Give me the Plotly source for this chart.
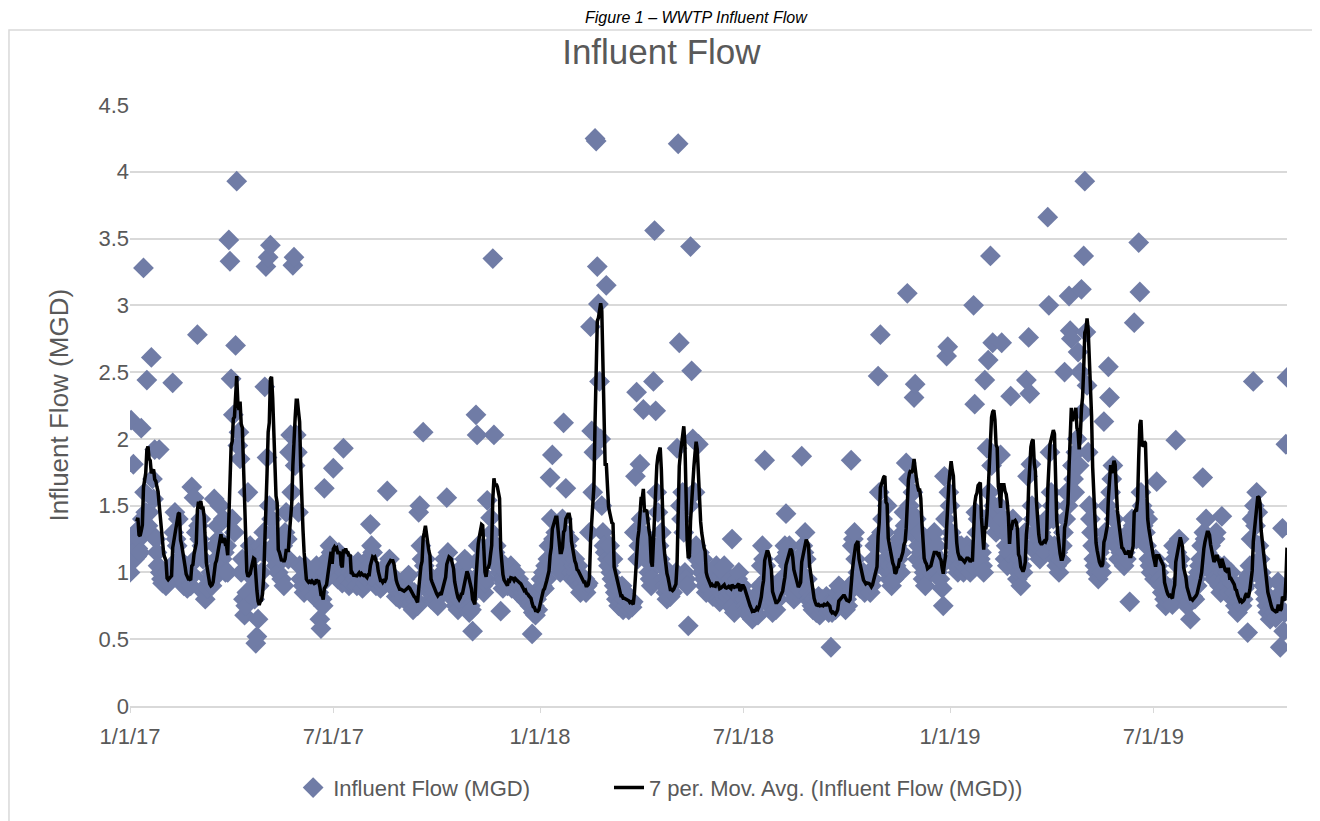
import pandas as pd
import plotly.graph_objects as go

# Daily influent flow (MGD), one row per month
flow_2017 = [
    1.00, 2.14, 1.21, 1.81, 1.10, 1.30, 1.12, 1.18, 1.25, 1.15, 2.08, 1.40, 3.28, 1.60, 1.45, 2.44, 1.35, 1.45, 1.30, 2.61, 1.70, 1.55, 1.92, 1.25, 1.15, 1.05, 1.92, 1.00, 0.95, 0.92, 0.98,
    0.95, 0.90, 1.00, 0.92, 1.02, 0.98, 1.05, 2.42, 1.30, 1.45, 1.25, 1.20, 1.40, 1.10, 1.00, 1.05, 0.95, 0.90, 0.92, 1.00, 0.88, 0.95, 1.05, 0.90, 1.64, 0.98, 1.56, 1.10,
    1.30, 2.78, 1.35, 1.25, 1.40, 1.20, 1.10, 0.85, 0.80, 0.90, 0.88, 0.95, 0.92, 1.00, 0.90, 0.95, 1.55, 1.20, 1.10, 1.35, 1.25, 1.50, 1.05, 1.10, 1.40, 1.15, 1.00, 1.20, 1.00, 3.49, 3.33,
    2.45, 1.40, 2.18, 1.30, 2.70, 3.93, 1.95, 2.05, 1.85, 1.00, 1.10, 0.80, 0.68, 0.75, 0.85, 1.60, 1.05, 1.20, 1.10, 1.00, 0.95, 0.80, 0.47, 0.52, 0.65, 0.90, 1.20, 1.00, 1.15, 1.30,
    2.39, 3.29, 1.86, 3.36, 1.50, 3.45, 1.40, 1.30, 1.20, 1.10, 1.05, 1.15, 1.00, 1.25, 1.10, 0.95, 1.20, 0.90, 1.30, 1.45, 1.25, 1.10, 1.90, 2.03, 1.60, 3.30, 3.36, 1.80, 2.03, 1.90, 1.45,
    1.05, 0.95, 0.95, 0.90, 0.85, 1.05, 0.90, 0.95, 0.88, 1.00, 0.85, 0.92, 1.00, 0.82, 0.98, 1.05, 0.90, 0.85, 0.65, 0.58, 0.80, 0.75, 1.63, 1.00, 0.95, 1.10, 1.05, 1.20, 1.15, 1.00,
    1.78, 1.05, 1.00, 1.10, 0.95, 1.15, 1.05, 1.10, 0.92, 1.93, 1.00, 1.10, 0.95, 1.05, 0.90, 1.00, 0.92, 1.05, 0.98, 0.95, 1.02, 0.90, 1.08, 1.00, 0.95, 1.05, 0.88, 0.98, 0.92, 1.00, 0.95,
    1.10, 1.05, 1.36, 1.20, 1.15, 0.95, 1.00, 0.90, 0.95, 0.92, 0.98, 0.88, 0.95, 0.90, 1.00, 0.92, 1.05, 1.61, 1.00, 1.10, 0.95, 0.98, 0.92, 0.88, 0.95, 0.82, 0.90, 0.85, 0.80, 0.92, 0.85,
    0.88, 0.82, 0.95, 0.90, 0.85, 0.98, 0.80, 0.75, 0.78, 0.72, 0.85, 0.80, 0.78, 0.75, 1.45, 1.50, 1.20, 1.10, 2.05, 1.05, 1.10, 1.00, 0.90, 0.95, 0.85, 0.80, 0.88, 0.92, 0.78, 0.85,
    0.80, 0.75, 0.88, 0.92, 0.85, 1.00, 0.95, 1.10, 1.05, 1.56, 1.15, 1.00, 0.95, 0.90, 0.85, 0.80, 0.88, 0.75, 0.78, 0.72, 0.80, 0.95, 1.00, 0.90, 1.05, 1.10, 0.98, 1.08, 0.80, 0.70, 0.75,
    0.72, 0.56, 0.85, 0.95, 2.18, 2.03, 1.20, 1.10, 1.05, 1.00, 0.90, 0.85, 0.92, 0.95, 1.54, 1.10, 1.20, 1.41, 1.30, 3.35, 2.03, 1.15, 1.20, 1.05, 1.10, 1.00, 0.71, 0.95, 0.88, 0.92,
    0.95, 1.00, 0.90, 0.98, 0.92, 1.05, 0.88, 0.95, 0.90, 1.00, 0.92, 0.85, 0.95, 0.88, 0.90, 0.82, 0.85, 0.80, 0.88, 0.78, 0.85, 0.80, 0.75, 0.78, 0.54, 0.70, 0.75, 0.68, 0.80, 0.72, 0.85,
]
flow_2018 = [
    0.85, 0.95, 0.90, 1.00, 0.88, 1.05, 0.95, 1.10, 1.20, 1.71, 1.40, 1.88, 1.25, 1.15, 1.30, 1.20, 1.05, 1.10, 1.00, 1.25, 1.40, 2.12, 1.30, 1.63, 1.20, 1.15, 1.25, 1.10, 1.00, 0.95, 1.05,
    1.10, 1.00, 0.95, 1.05, 0.90, 0.85, 0.95, 0.92, 0.88, 0.95, 0.85, 0.90, 0.92, 1.30, 2.84, 2.06, 1.60, 1.90, 4.25, 4.23, 3.29, 3.01, 2.43, 2.00, 1.50, 1.30, 1.20, 1.15,
    3.15, 1.10, 1.05, 1.20, 1.00, 0.95, 1.10, 0.90, 0.85, 0.80, 0.88, 0.75, 0.82, 0.78, 0.90, 0.72, 0.80, 0.85, 0.75, 0.78, 0.72, 0.80, 0.76, 0.74, 0.78, 1.30, 1.72, 2.35, 1.10, 1.20, 1.81,
    1.40, 1.30, 2.22, 1.20, 1.10, 1.25, 1.15, 1.00, 0.95, 0.90, 0.95, 2.43, 3.56, 2.21, 1.60, 1.45, 1.20, 1.10, 1.30, 1.05, 0.95, 0.90, 0.85, 0.80, 0.88, 0.90, 0.82, 0.95, 0.85, 0.92,
    0.95, 1.00, 1.93, 4.21, 2.72, 1.50, 1.40, 1.60, 1.30, 1.00, 0.95, 0.90, 0.60, 1.50, 3.44, 2.51, 2.00, 1.60, 1.60, 1.20, 1.10, 1.96, 1.15, 1.05, 1.00, 1.10, 0.95, 0.90, 0.85, 0.92, 0.88,
    0.95, 0.88, 1.00, 0.82, 0.85, 0.90, 1.05, 0.95, 0.80, 0.78, 0.85, 0.92, 1.00, 1.05, 0.80, 0.78, 0.82, 0.90, 0.85, 0.95, 1.25, 0.75, 0.70, 0.85, 0.90, 0.95, 1.00, 0.88, 0.82, 0.90,
    0.85, 0.80, 0.75, 0.72, 0.70, 0.68, 0.75, 0.72, 0.65, 0.78, 0.70, 0.74, 0.80, 0.68, 0.85, 0.90, 1.05, 1.20, 1.10, 1.84, 1.05, 0.95, 0.90, 0.85, 0.75, 0.80, 0.70, 0.82, 0.78, 0.72, 0.85,
    0.80, 0.90, 0.88, 0.95, 0.92, 1.10, 1.20, 1.44, 1.15, 1.05, 1.20, 1.10, 1.00, 0.85, 0.80, 0.90, 0.85, 0.95, 0.88, 1.10, 1.00, 1.87, 1.20, 1.15, 1.30, 1.10, 0.95, 0.85, 0.80, 0.78, 0.75,
    0.72, 0.80, 0.75, 0.70, 0.78, 0.82, 0.68, 0.75, 0.80, 0.72, 0.78, 0.74, 0.82, 0.76, 0.70, 0.72, 0.44, 0.70, 0.78, 0.75, 0.72, 0.80, 0.85, 0.90, 0.78, 0.88, 0.82, 0.75, 0.80, 0.72,
    0.80, 0.75, 0.85, 0.90, 1.84, 1.20, 1.25, 1.30, 1.10, 0.95, 1.00, 0.90, 0.88, 0.95, 0.92, 1.00, 0.85, 0.90, 0.95, 0.88, 0.92, 0.85, 0.90, 0.95, 1.10, 1.20, 1.05, 1.25, 2.47, 1.60, 2.78,
    1.30, 1.40, 1.20, 1.30, 1.10, 1.50, 1.00, 0.95, 1.05, 0.90, 1.00, 0.95, 1.10, 1.05, 1.20, 1.10, 1.25, 1.00, 1.15, 1.30, 1.45, 1.35, 1.82, 3.09, 1.70, 1.50, 1.45, 1.30, 1.60, 2.31,
    2.41, 1.40, 1.10, 1.20, 1.30, 1.15, 1.05, 0.95, 1.00, 0.90, 1.10, 1.05, 1.20, 1.10, 1.00, 1.25, 1.15, 1.30, 1.05, 1.20, 1.00, 1.10, 0.95, 1.05, 0.88, 0.75, 1.72, 1.40, 2.62, 2.69, 1.60,
]
flow_2019 = [
    1.50, 1.30, 1.25, 1.10, 1.20, 1.05, 1.15, 1.00, 1.10, 1.05, 1.20, 1.15, 1.00, 1.05, 1.10, 1.20, 1.05, 1.15, 1.00, 1.10, 1.05, 3.00, 2.26, 1.45, 1.30, 1.40, 1.20, 1.10, 1.15, 1.05, 1.00,
    2.44, 1.40, 1.93, 2.59, 1.60, 3.37, 1.80, 2.72, 1.50, 1.40, 1.30, 1.45, 1.35, 1.50, 1.88, 2.72, 1.40, 1.30, 1.10, 1.20, 1.05, 1.15, 1.30, 2.32, 1.25, 1.40, 1.20, 1.10,
    1.05, 0.95, 1.00, 1.10, 0.90, 1.05, 1.00, 1.20, 1.30, 2.44, 1.72, 2.76, 2.34, 1.81, 1.50, 1.40, 1.20, 1.30, 1.15, 1.20, 1.25, 1.10, 1.30, 1.20, 1.35, 1.25, 1.15, 1.40, 3.66, 3.00, 1.90,
    1.60, 1.50, 1.40, 1.20, 1.10, 1.05, 1.15, 1.00, 1.10, 1.09, 1.20, 1.30, 2.50, 1.40, 1.60, 1.50, 3.07, 2.81, 2.75, 1.80, 1.70, 1.60, 1.90, 2.00, 2.65, 1.80, 2.50, 3.12, 2.20, 3.37,
    3.93, 2.80, 2.40, 1.90, 1.50, 1.40, 1.30, 1.20, 1.10, 1.05, 1.00, 1.10, 0.95, 1.15, 1.05, 1.00, 1.20, 2.13, 1.30, 1.25, 1.50, 2.54, 2.31, 1.60, 1.70, 1.80, 1.40, 1.30, 1.20, 1.25, 1.10,
    1.20, 1.15, 1.10, 1.25, 1.05, 1.15, 1.10, 1.20, 1.30, 0.78, 1.25, 1.40, 1.35, 2.87, 1.30, 1.25, 1.40, 3.47, 3.10, 1.60, 1.50, 1.35, 1.45, 1.30, 1.20, 1.40, 1.10, 1.05, 1.00, 1.10,
    1.00, 0.95, 1.10, 1.68, 1.05, 1.00, 0.95, 0.90, 0.85, 0.92, 0.80, 0.75, 0.85, 0.78, 0.82, 0.88, 0.80, 0.76, 1.20, 1.10, 1.99, 1.15, 1.05, 1.25, 1.10, 0.95, 0.85, 0.90, 0.88, 0.80, 0.75,
    0.85, 0.78, 0.65, 0.90, 0.82, 0.88, 0.80, 0.95, 0.90, 1.00, 1.05, 1.10, 1.20, 1.71, 1.30, 1.25, 1.40, 1.15, 1.10, 1.05, 1.20, 1.00, 1.10, 0.95, 1.25, 1.30, 1.05, 0.95, 0.90, 0.85, 1.42,
    1.00, 1.05, 0.95, 0.90, 1.00, 0.85, 0.95, 1.00, 0.92, 0.80, 0.85, 0.75, 0.80, 0.70, 0.82, 0.78, 0.85, 0.75, 0.80, 0.88, 0.90, 0.95, 0.55, 0.98, 1.05, 1.25, 1.40, 2.43, 1.50, 1.35,
    1.60, 1.45, 1.20, 1.10, 1.00, 0.95, 0.90, 0.85, 0.80, 0.75, 0.70, 0.78, 0.65, 0.72, 0.68, 0.75, 0.70, 0.66, 0.80, 0.93, 0.72, 0.44, 0.85, 1.33, 0.56, 0.70, 1.96, 2.46,
]
start_date = "2017-01-01"
end_date = "2019-10-28"
tick_dates = ["2017-01-01", "2017-07-01", "2018-01-01", "2018-07-01", "2019-01-01", "2019-07-01"]
tick_labels = ["1/1/17", "7/1/17", "1/1/18", "7/1/18", "1/1/19", "7/1/19"]

flow = pd.Series(flow_2017 + flow_2018 + flow_2019,
                 index=pd.date_range(start_date, periods=len(flow_2017) + len(flow_2018) + len(flow_2019)))
moving_avg = flow.rolling(7).mean()  # Excel's "7 per. Mov. Avg." trendline

FONT = "Liberation Sans, Arial, sans-serif"
GRAY = "#595959"
GRID = "#D9D9D9"

fig = go.Figure()
fig.add_trace(go.Scatter(
    x=flow.index, y=flow.values, mode="markers", name="Influent Flow (MGD)",
    marker=dict(symbol="diamond", size=16, color="#707CA6", line=dict(width=0)),
    legend="legend",
))
fig.add_trace(go.Scatter(
    x=moving_avg.index, y=moving_avg.values, mode="lines",
    name="7 per. Mov. Avg. (Influent Flow (MGD))",
    line=dict(color="black", width=3.5),
    legend="legend2",
))

# the page adds an 8px body margin, so the figure is 8px smaller than the window
legend_style = dict(orientation="h", xanchor="left", y=-0.136, yanchor="middle",
                    font=dict(size=22, color=GRAY), bgcolor="rgba(0,0,0,0)")
fig.update_layout(
    width=1312, height=813,
    margin=dict(l=122, r=33, t=97, b=115),
    paper_bgcolor="white", plot_bgcolor="white",
    font=dict(family=FONT, color=GRAY, size=22),
    title=dict(text="Influent Flow", x=0.498, xref="container", xanchor="center",
               y=0.946, yanchor="middle", font=dict(size=35, color=GRAY)),
    showlegend=True,
    legend=dict(x=0.141, **legend_style),
    legend2=dict(x=0.414, **legend_style),
)
fig.update_xaxes(
    type="date", range=[start_date, end_date],
    tickvals=tick_dates, ticktext=tick_labels,
    showgrid=False, showline=True, linecolor=GRID, linewidth=1.5,
    ticks="outside", ticklen=5, tickcolor=GRID, ticklabelstandoff=5,
    tickfont=dict(size=22, color=GRAY), zeroline=False,
)
fig.update_yaxes(
    range=[0, 4.5], dtick=0.5, tickformat="~r",
    showgrid=True, gridcolor=GRID, gridwidth=1.5, zeroline=False, showline=False,
    tickfont=dict(size=22, color=GRAY), ticks="",
)

# y axis title and caption placed as annotations
fig.add_annotation(text="Influent Flow (MGD)", textangle=-90, xref="paper", yref="paper",
                   x=-0.0622, y=0.5, xanchor="center", yanchor="middle", showarrow=False,
                   font=dict(size=26, color=GRAY))
fig.add_annotation(text="<i>Figure 1 – WWTP Influent Flow</i>", xref="paper", yref="paper",
                   x=0.49, y=1.146, yanchor="middle", showarrow=False,
                   font=dict(size=16, color="black"))
# outer chart border
fig.add_shape(type="rect", xref="paper", yref="paper", x0=-0.1046, x1=1.0251, y0=-0.25, y1=1.125,
              line=dict(color=GRID, width=1.5), layer="below")

fig.write_html("out.html")
